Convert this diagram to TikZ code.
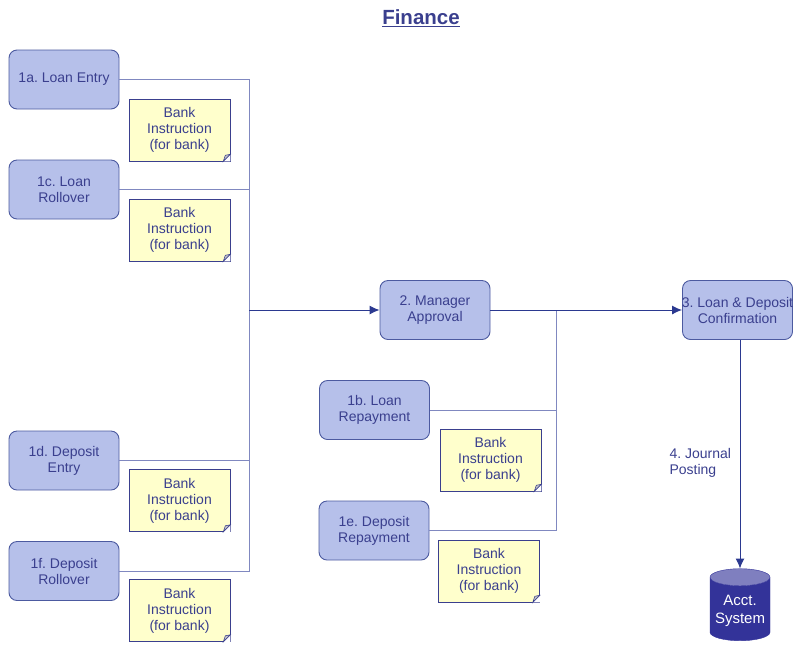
\documentclass[tikz,border=0pt]{standalone}
\usepackage{fontspec}
\setmainfont{Liberation Sans}
\usepackage{tikz}
\usetikzlibrary{shapes.geometric}
\usetikzlibrary{arrows.meta}
\usepackage{xcolor}
\definecolor{boxfill}{HTML}{B6C0EA}
\definecolor{boxline}{HTML}{4C5AA0}
\definecolor{navy}{HTML}{3A3F8E}
\definecolor{darkline}{HTML}{2B3990}
\definecolor{lightline}{HTML}{8088C0}
\definecolor{notefill}{HTML}{FFFFCC}
\definecolor{acct}{HTML}{333399}
\definecolor{accttop}{HTML}{7F7FBF}
\frenchspacing

\begin{document}
\begin{tikzpicture}[x=1pt,y=-1pt,
  task/.style={draw=boxline, fill=boxfill, rounded corners=8pt, line width=0.9pt,
    minimum width=110, minimum height=59, align=center, text=navy, font=\fontsize{14}{16}\selectfont},
  note/.style={draw=navy, fill=notefill, line width=0.6pt, minimum width=101, minimum height=62,
    align=center, text=navy, font=\fontsize{14}{16}\selectfont},
  feed/.style={lightline, line width=1pt},
  flow/.style={darkline, line width=1pt, -{Latex[length=10pt,width=9pt]}}]
\useasboundingbox (0,0) rectangle (799,649);

% title
\node [text=navy, font=\bfseries\fontsize{20.5}{24}\selectfont] (title) at (421,18) {\underline{Finance}};

% entry boxes
\node [task] (la) at (64,79.5) {1a. Loan Entry};
\node [task] (lc) at (64,189.5) {1c. Loan\\Rollover};
\node [task] (dd) at (64,460.5) {1d. Deposit\\Entry};
\node [task] (df) at (64,571) {1f. Deposit\\Rollover};
\node [task] (lb) at (374.5,410) {1b. Loan\\Repayment};
\node [task] (de) at (374,530.5) {1e. Deposit\\Repayment};
\node [task] (mgr) at (435,310) {2. Manager\\Approval};
\node [task, inner xsep=-4pt] (conf) at (737.5,310) {3. Loan \& Deposit\\Confirmation};

% bank instructions
\node [note] (na) at (179.5,130) {Bank\\Instruction\\(for bank)};
\node [note] (nc) at (179.5,230) {Bank\\Instruction\\(for bank)};
\node [note] (nd) at (179.5,500.5) {Bank\\Instruction\\(for bank)};
\node [note] (nf) at (179.5,610.5) {Bank\\Instruction\\(for bank)};
\node [note] (nb) at (490.5,460) {Bank\\Instruction\\(for bank)};
\node [note] (ne) at (489,571) {Bank\\Instruction\\(for bank)};
\foreach \n in {na,nc,nd,nf,nb,ne} {
  \fill [white] (\n.south east) -- ++(-7,0) -- ++(7,-7) -- cycle;
  \draw [navy, line width=0.6pt, fill=gray!45] ([xshift=-7pt]\n.south east) -- ++(2,-6) -- ++(5,-1) -- cycle;
}

% accounting system
\node [cylinder, shape border rotate=90, aspect=0.3, minimum width=60, minimum height=72,
  cylinder uses custom fill, cylinder body fill=acct, cylinder end fill=accttop,
  draw=acct, align=center, text=white, font=\fontsize{15}{18}\selectfont] (acs) at (740,611) {Acct.\\System};

% junctions
\coordinate (jl) at (249,310);
\coordinate (jm) at (556,310);

% fan-in lines
\draw [feed] (la.east) -| (jl);
\draw [feed] (lc.east) -| (jl);
\draw [feed] (dd.east) -| (jl);
\draw [feed] (df.east) -| (jl);
\draw [feed] (lb.east) -| (jm);
\draw [feed] (de.east) -| (jm);

% main flow
\draw [flow] (jl) -- (mgr.west);
\draw [flow] (mgr.east) -- (conf.west);
\draw [flow] (conf.south -| acs.north) -- (acs.north);
\node [anchor=west, align=left, text=navy, font=\fontsize{14}{16}\selectfont] (post) at (666,463) {4. Journal\\Posting};

\end{tikzpicture}
\end{document}
